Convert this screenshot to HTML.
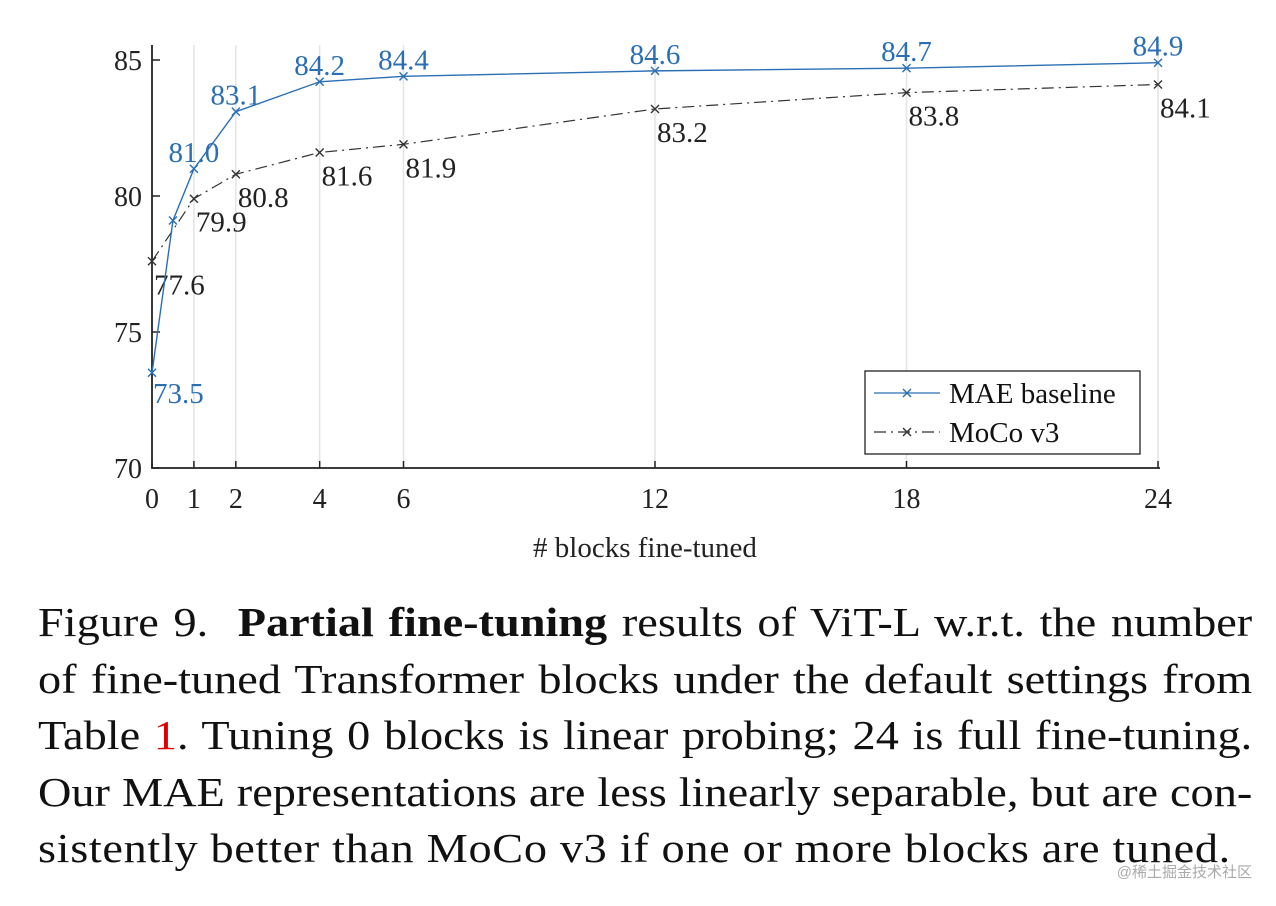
<!DOCTYPE html>
<html><head><meta charset="utf-8"><style>
body{margin:0;width:1276px;height:906px;background:#fff;overflow:hidden;font-family:"Liberation Serif",serif;}
#cap{position:absolute;left:38px;top:594px;width:1089px;font-size:41.5px;line-height:56.5px;color:#111;transform:scaleX(1.115);transform-origin:0 0;}
#cap div{text-align:justify;text-align-last:justify;white-space:nowrap;}
#wm{position:absolute;right:24px;bottom:24px;font:15px "Liberation Sans","Noto Sans CJK SC",sans-serif;color:#aaa;}
</style></head><body>
<svg id="chart" width="1276" height="590" style="position:absolute;left:0;top:0"></svg>
<div id="cap">
<div>Figure 9.&nbsp; <b>Partial fine-tuning</b> results of ViT-L w.r.t. the number</div>
<div>of fine-tuned Transformer blocks under the default settings from</div>
<div>Table <span style="color:#d00">1</span>. Tuning 0 blocks is linear probing; 24 is full fine-tuning.</div>
<div>Our MAE representations are less linearly separable, but are con-</div>
<div style="text-align-last:left;letter-spacing:0.6px">sistently better than MoCo v3 if one or more blocks are tuned.</div>
</div>
<div id="wm">@稀土掘金技术社区</div>
<script>
const xTicks=[0,1,2,4,6,12,18,24];
const yTicks=[70,75,80,85];
const maeX=[0,0.5,1,2,4,6,12,18,24];
const maeY=[73.5,79.1,81.0,83.1,84.2,84.4,84.6,84.7,84.9];
const maeLabels=["73.5","","81.0","83.1","84.2","84.4","84.6","84.7","84.9"];
const mocoX=[0,1,2,4,6,12,18,24];
const mocoY=[77.6,79.9,80.8,81.6,81.9,83.2,83.8,84.1];
const mocoLabels=["77.6","79.9","80.8","81.6","81.9","83.2","83.8","84.1"];
const NS="http://www.w3.org/2000/svg";
const svg=document.getElementById('chart');
const sx=v=>152+v*(1158-152)/24;
const sy=v=>468-(v-70)*(408/15);
function el(t,a,p){const e=document.createElementNS(NS,t);for(const k in a)e.setAttribute(k,a[k]);(p||svg).appendChild(e);return e;}
function txt(x,y,s,o,p){const e=el('text',Object.assign({x:x,y:y,'font-family':'Liberation Serif, serif','font-size':29},o||{}),p);e.textContent=s;return e;}
xTicks.forEach(t=>{
 if(t>0){const g=el('line',{x1:sx(t),x2:sx(t),y1:45,y2:468,stroke:'#e4e4e4','stroke-width':1.5});
 
 }
 el('line',{x1:sx(t),x2:sx(t),y1:468,y2:461,stroke:'#222','stroke-width':1.5});
 const l=txt(sx(t),508,String(t),{'text-anchor':'middle','font-size':28,fill:'#222'});
 
 
});
yTicks.forEach(t=>{
 el('line',{x1:152,x2:160,y1:sy(t),y2:sy(t),stroke:'#222','stroke-width':1.5});
 const l=txt(142,sy(t)+10,String(t),{'text-anchor':'end','font-size':28,fill:'#222'});
 
 
});
const ax=el('path',{d:'M152 45V468H1160',fill:'none',stroke:'#222','stroke-width':1.8});


const xt=txt(645,557,'# blocks fine-tuned',{'text-anchor':'middle','font-size':29,fill:'#222'});


function marker(x,y,c){el('path',{d:`M${x-4} ${y-4}L${x+4} ${y+4}M${x-4} ${y+4}L${x+4} ${y-4}`,stroke:c,'stroke-width':1.4});}
const mocoLine=el('polyline',{points:mocoX.map((v,i)=>sx(v)+','+sy(mocoY[i])).join(' '),fill:'none',stroke:'#333','stroke-width':1.2,'stroke-dasharray':'12 5 2 5'});


mocoX.forEach((v,i)=>{marker(sx(v),sy(mocoY[i]),'#333');
 const l=txt(sx(v)+2,sy(mocoY[i])+33,mocoLabels[i],{fill:'#222'});
 
 });
const maeLine=el('polyline',{points:maeX.map((v,i)=>sx(v)+','+sy(maeY[i])).join(' '),fill:'none',stroke:'#2a6fb5','stroke-width':1.4});


maeX.forEach((v,i)=>{marker(sx(v),sy(maeY[i]),'#2a6fb5');
 if(!maeLabels[i])return;
 const l=v===0?txt(sx(v)+1,sy(maeY[i])+30,maeLabels[i],{fill:'#2a6fb5'}):txt(sx(v),sy(maeY[i])-7,maeLabels[i],{fill:'#2a6fb5','text-anchor':'middle'});
 
 });
const lg=el('g',{});


el('rect',{x:865,y:371,width:275,height:83,fill:'#fff',stroke:'#222','stroke-width':1.3},lg);
el('line',{x1:874,x2:940,y1:393,y2:393,stroke:'#2a6fb5','stroke-width':1.2},lg);
el('line',{x1:874,x2:940,y1:432,y2:432,stroke:'#333','stroke-width':1.2,'stroke-dasharray':'12 5 2 5'},lg);
marker(907,393,'#2a6fb5');marker(907,432,'#333');
const l1=txt(949,403,'MAE baseline',{fill:'#111','font-size':29},lg);


const l2=txt(949,442,'MoCo v3',{fill:'#111','font-size':29},lg);


</script>
</body></html>
